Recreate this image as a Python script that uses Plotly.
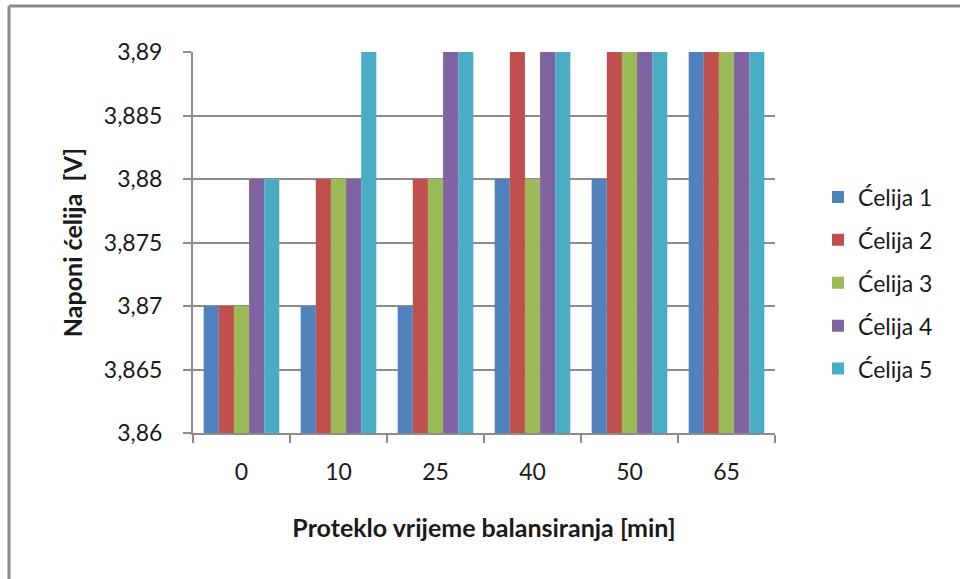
import plotly.graph_objects as go

categories = ["0", "10", "25", "40", "50", "65"]
celija1 = [3.87, 3.87, 3.87, 3.88, 3.88, 3.89]
celija2 = [3.87, 3.88, 3.88, 3.89, 3.89, 3.89]
celija3 = [3.87, 3.88, 3.88, 3.88, 3.89, 3.89]
celija4 = [3.88, 3.88, 3.89, 3.89, 3.89, 3.89]
celija5 = [3.88, 3.89, 3.89, 3.89, 3.89, 3.89]
series_names = ["Ćelija 1", "Ćelija 2", "Ćelija 3", "Ćelija 4", "Ćelija 5"]
series_values = [celija1, celija2, celija3, celija4, celija5]
colors = ["#4F81BD", "#C0504D", "#9BBB59", "#8064A2", "#4BACC6"]
ytick_vals = [3.86, 3.865, 3.87, 3.875, 3.88, 3.885, 3.89]
ytick_text = ["3,86", "3,865", "3,87", "3,875", "3,88", "3,885", "3,89"]
y_base = 3.86

FONT = "Lato, 'Liberation Sans', sans-serif"
GRID = "#8C8C8C"
TXT = "#1a1a1a"

fig = go.Figure()
for name, vals, col in zip(series_names, series_values, colors):
    fig.add_trace(go.Bar(
        x=categories, y=[v - y_base for v in vals], base=y_base,
        name=name, legendgroup=name,
        marker=dict(color=col, line=dict(width=0)),
    ))

L, R, T, B = 193, 185, 52, 146
W, H = 960 - L - R, 579 - T - B

fig.update_layout(
    width=960, height=579,
    margin=dict(l=L, r=R, t=T, b=B),
    paper_bgcolor="white", plot_bgcolor="white",
    barmode="group", bargap=0.22, bargroupgap=0,
    font=dict(family=FONT, size=23, color=TXT),
    separators=", ",
    showlegend=True,
    legend=dict(
        x=(818 - L) / W, xanchor="left",
        y=(433 - 283) / H, yanchor="middle",
        font=dict(family=FONT, size=23, color=TXT),
        tracegroupgap=10,
        itemwidth=30,
        bgcolor="rgba(0,0,0,0)",
    ),
    xaxis=dict(
        type="category",
        tickson="boundaries",
        ticks="outside", ticklen=8, tickcolor=GRID, tickwidth=2,
        showline=True, linecolor=GRID, linewidth=2,
        showgrid=False,
        tickfont=dict(family=FONT, size=23, color=TXT),
        ticklabelstandoff=17,
        title=dict(text="<b>Proteklo vrijeme balansiranja [min]</b>",
                   font=dict(family=FONT, size=25, color=TXT),
                   standoff=36),
    ),
    yaxis=dict(
        range=[3.86, 3.89],
        tickvals=ytick_vals, ticktext=ytick_text,
        ticks="outside", ticklen=8, tickcolor=GRID, tickwidth=2,
        showline=True, linecolor=GRID, linewidth=2,
        showgrid=True, gridcolor=GRID, gridwidth=2,
        zeroline=False,
        tickfont=dict(family=FONT, size=23, color=TXT),
        ticklabelstandoff=16,
        title=dict(text="<b>Naponi ćelija  [V]</b>",
                   font=dict(family=FONT, size=25, color=TXT),
                   standoff=14),
    ),
    shapes=[
        dict(type="line", xref="paper", yref="paper",
             x0=(9 - L) / W, x1=(960 - L) / W, y0=(433 - 6) / H, y1=(433 - 6) / H,
             line=dict(color="#8A8A8A", width=3)),
        dict(type="line", xref="paper", yref="paper",
             x0=(9 - L) / W, x1=(9 - L) / W, y0=(433 - 6) / H, y1=(433 - 579) / H,
             line=dict(color="#8A8A8A", width=3)),
    ],
)

fig.write_html("out.html", config={"displayModeBar": False},
               post_script="document.body.style.margin='0';")
